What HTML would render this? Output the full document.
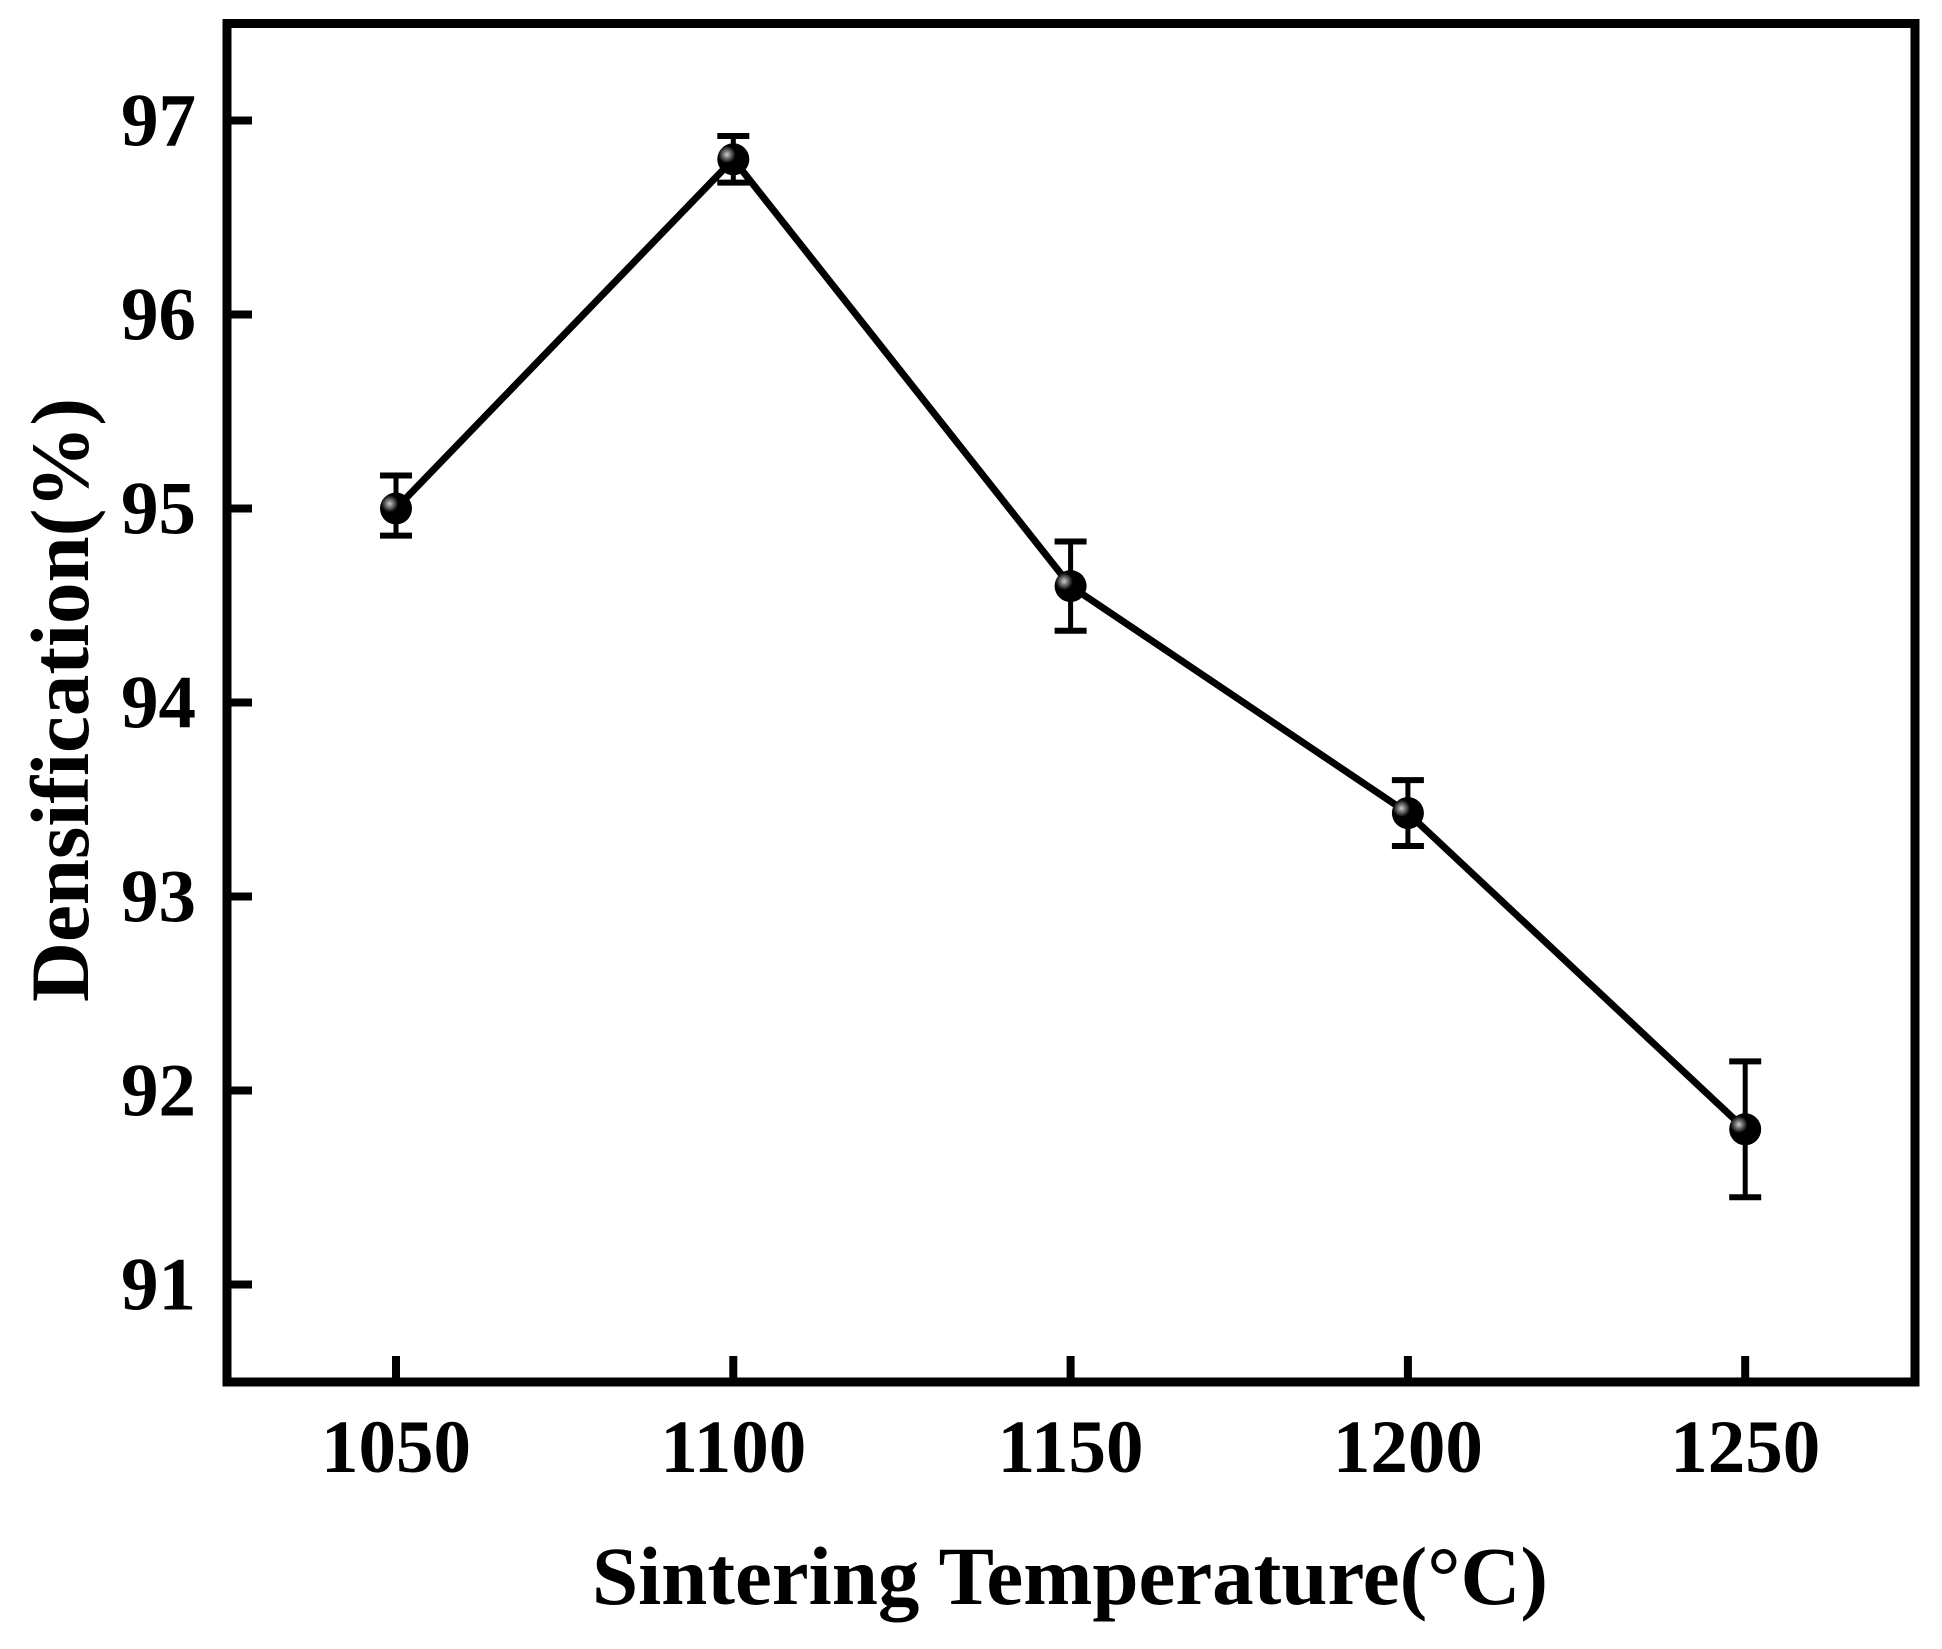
<!DOCTYPE html>
<html><head><meta charset="utf-8"><style>
html,body{margin:0;padding:0;background:#fff;}
svg text{font-family:"Liberation Serif","Times New Roman",serif;font-weight:bold;fill:#000;}
</style></head><body>
<svg id="chart" width="1942" height="1644" viewBox="0 0 1942 1644" xmlns="http://www.w3.org/2000/svg">
<g id="axes"></g><g id="series"></g>
</svg>
<script>
const temps = [1050, 1100, 1150, 1200, 1250];
const density = [95.0, 96.8, 94.6, 93.43, 91.8];
const errUp = [0.17, 0.12, 0.23, 0.17, 0.35];
const errDown = [0.14, 0.12, 0.23, 0.17, 0.35];
const yTicks = [91, 92, 93, 94, 95, 96, 97];
const xTicks = [1050, 1100, 1150, 1200, 1250];

const NS = "http://www.w3.org/2000/svg";
const L = 227, R = 1915, T = 23.5, B = 1382;
function xs(v){ return 396 + (v - 1050) * (337.3 / 50); }
function ys(v){ return 120.5 + (97 - v) * 194; }
function mk(tag, attrs, parent){ const e = document.createElementNS(NS, tag); for (const k in attrs) e.setAttribute(k, attrs[k]); parent.appendChild(e); return e; }
const axes = document.getElementById('axes'), series = document.getElementById('series');

const frame = mk('rect', {x:L, y:T, width:R-L, height:B-T, fill:'none', stroke:'#000', 'stroke-width':9}, axes);



yTicks.forEach(v => {
  const t = mk('line', {x1:L, x2:L+25, y1:ys(v), y2:ys(v), stroke:'#000', 'stroke-width':8}, axes);
  
  
  const lb = mk('text', {x:196, y:ys(v)+25, 'text-anchor':'end', 'font-size':75}, axes);
  lb.textContent = v;
  
  
});
xTicks.forEach(v => {
  const t = mk('line', {x1:xs(v), x2:xs(v), y1:B, y2:B-26, stroke:'#000', 'stroke-width':8}, axes);
  
  
  const lb = mk('text', {x:xs(v), y:1472, 'text-anchor':'middle', 'font-size':75}, axes);
  lb.textContent = v;
  
  
});
const xt = mk('text', {x:1070, y:1604, 'text-anchor':'middle', 'font-size':83}, axes);
xt.textContent = 'Sintering Temperature(°C)';


const yt = mk('text', {x:0, y:0, 'text-anchor':'middle', 'font-size':83, transform:'translate(88,700) rotate(-90)'}, axes);
yt.textContent = 'Densification(%)';



const pts = temps.map((t,i) => xs(t) + ',' + ys(density[i])).join(' ');
const line = mk('polyline', {points:pts, fill:'none', stroke:'#000', 'stroke-width':7, 'stroke-linejoin':'round'}, series);



const defs = mk('defs', {}, series);
const grad = mk('radialGradient', {id:'ball', cx:'0.3', cy:'0.35', r:'0.6'}, defs);
mk('stop', {offset:'0', 'stop-color':'#ccc'}, grad);
mk('stop', {offset:'0.45', 'stop-color':'#000'}, grad);
mk('stop', {offset:'1', 'stop-color':'#000'}, grad);

temps.forEach((t,i) => {
  const x = xs(t), y1 = ys(density[i] + errUp[i]), y2 = ys(density[i] - errDown[i]);
  const g = mk('g', {}, series);
  
  
  mk('line', {x1:x, x2:x, y1:y1, y2:y2, stroke:'#000', 'stroke-width':5}, g);
  mk('line', {x1:x-16, x2:x+16, y1:y1, y2:y1, stroke:'#000', 'stroke-width':6}, g);
  mk('line', {x1:x-16, x2:x+16, y1:y2, y2:y2, stroke:'#000', 'stroke-width':6}, g);
  const c = mk('circle', {cx:x, cy:ys(density[i]), r:16, fill:'url(#ball)'}, series);
  
  
});
</script>
</body></html>
